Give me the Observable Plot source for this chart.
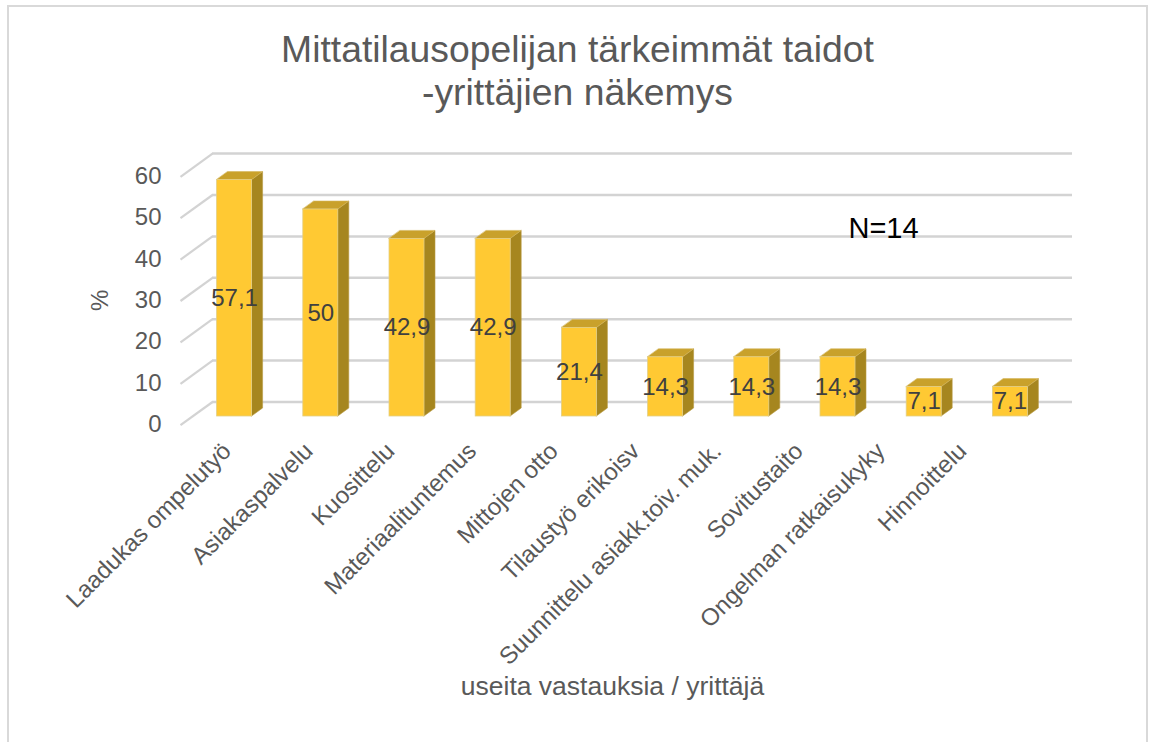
<!DOCTYPE html>
<html><head><meta charset="utf-8">
<script src="https://cdn.jsdelivr.net/npm/d3@7"></script>
<script src="https://cdn.jsdelivr.net/npm/@observablehq/plot@0.6"></script>
<style>
html,body{margin:0;padding:0;overflow:hidden;background:#fff;}
#page{position:relative;width:1149px;height:742px;font-family:"Liberation Sans",Arial,sans-serif;}
#border{position:absolute;left:7px;top:5px;width:1141px;height:800px;border:2px solid #d9d9d9;box-sizing:border-box;pointer-events:none;}
#title{position:absolute;left:0;top:0;width:1155px;height:125px;text-align:center;color:#595959;font-size:37.3px;line-height:43px;padding-top:27.6px;box-sizing:border-box;}
#chart{position:absolute;left:0;top:125px;}
</style>
</head><body>
<div id="page">
  <div id="title"></div>
  <div id="chart"></div>
  <div id="border"></div>
</div>
<script>
// ---- data ----
const titleLines = ["Mittatilausopelijan tärkeimmät taidot", "-yrittäjien näkemys"];
const categories = [
  "Laadukas ompelutyö", "Asiakaspalvelu", "Kuosittelu", "Materiaalituntemus",
  "Mittojen otto", "Tilaustyö erikoisv", "Suunnittelu asiakk.toiv. muk.",
  "Sovitustaito", "Ongelman ratkaisukyky", "Hinnoittelu"
];
const values = [57.1, 50, 42.9, 42.9, 21.4, 14.3, 14.3, 14.3, 7.1, 7.1];
const yTicks = [0, 10, 20, 30, 40, 50, 60];
const yLabel = "%";
const xLabel = "useita vastauksia / yrittäjä";
const note = "N=14";

// ---- layout ----
const W = 1149, H = 617, mL = 191, mR = 96, mT = 42.6, mB = 326;
const pxX = (W - mL - mR) / 10;      // pixels per category step
const pxY = (H - mT - mB) / 60;      // pixels per percent
const toX = px => (px - mL) / pxX - 0.5;
const hw = 17.5 / pxX;               // half width of bar front
const ddx = 11 / pxX, ddy = 8 / pxY; // bar depth
const colFront = "#FFC933", colSide = "#A6861F", colTop = "#C9A12B";
const gridCol = "#d3d3d3";

document.getElementById("title").innerHTML = titleLines.join("<br>");

const bars = categories.map((c, i) => ({c, i, v: values[i], label: String(values[i]).replace(".", ",")}));
const side = bars.flatMap(b => [
  {i: b.i, x: b.i + hw, y1: 0, y2: b.v},
  {i: b.i, x: b.i + hw + ddx, y1: ddy, y2: b.v + ddy}
]);
const topF = bars.flatMap(b => [
  {i: b.i, x1: b.i - hw, y1: b.v, x2: b.i - hw + ddx, y2: b.v + ddy},
  {i: b.i, x1: b.i + hw, y1: b.v, x2: b.i + hw + ddx, y2: b.v + ddy}
]);

const chart = Plot.plot({
  width: W, height: H,
  marginLeft: mL, marginRight: mR, marginTop: mT, marginBottom: mB,
  x: {domain: [-0.5, 9.5], axis: null},
  y: {domain: [0, 60], axis: null},
  style: {fontFamily: "'Liberation Sans', Arial, sans-serif", background: "transparent", overflow: "visible"},
  marks: [
    // back wall gridlines
    Plot.ruleY(yTicks, {dy: -14.5, insetLeft: 21, insetRight: -19, stroke: gridCol, strokeWidth: 2.5}),
    // floor/side diagonals
    Plot.link(yTicks, {x1: toX(180), x2: toX(212), y1: d => d - 8.7 / pxY, y2: d => d + 14.5 / pxY, stroke: gridCol, strokeWidth: 2.2}),
    // bars
    Plot.area(side, {x1: "x", y1: "y1", x2: "x", y2: "y2", z: "i", fill: colSide, stroke: "#b89a45", strokeWidth: 0.6}),
    Plot.area(topF, {x1: "x1", y1: "y1", x2: "x2", y2: "y2", z: "i", fill: colTop, stroke: "#d4b55a", strokeWidth: 0.6}),
    Plot.rect(bars, {x1: d => d.i - hw, x2: d => d.i + hw, y1: 0, y2: "v", fill: colFront, stroke: "#e3cf86", strokeWidth: 0.8}),
    // data labels
    Plot.text(bars, {x: "i", y: d => d.v / 2, text: "label", fontSize: 24, fill: "#404040"}),
    // y tick labels
    Plot.text(yTicks, {y: d => d, text: d => String(d), frameAnchor: "left", dx: -30, dy: 8, textAnchor: "end", lineAnchor: "middle", fontSize: 24, fill: "#595959"}),
    // y axis title
    Plot.text([yLabel], {frameAnchor: "left", y: 30, dx: -91, dy: 8, rotate: -90, textAnchor: "middle", lineAnchor: "middle", fontSize: 24, fill: "#595959"}),
    // category labels
    Plot.text(bars, {x: d => toX(220 + 81.7 * d.i), text: "c", frameAnchor: "bottom", dy: 24, rotate: -45, textAnchor: "end", lineAnchor: "top", fontSize: 24, fill: "#595959"}),
    // x axis title
    Plot.text([xLabel], {frameAnchor: "bottom", dx: -10, dy: 270.5, textAnchor: "middle", lineAnchor: "middle", fontSize: 26.5, fill: "#595959"}),
    // note
    Plot.text([note], {frameAnchor: "top-left", dx: 692, dy: 61, textAnchor: "middle", lineAnchor: "middle", fontSize: 29, fill: "#000"})
  ]
});
document.getElementById("chart").appendChild(chart);
</script>
</body></html>
